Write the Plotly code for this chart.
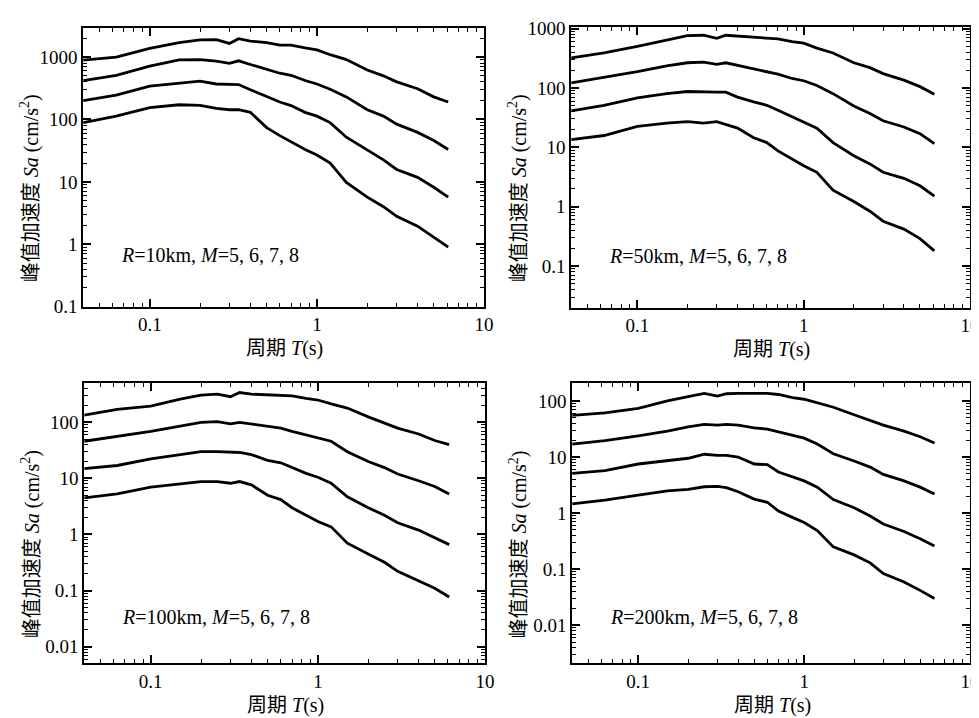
import math
import plotly.graph_objects as go

W, H = 979, 718

# Periods (s)
T = [0.04, 0.063, 0.1, 0.15, 0.2, 0.25, 0.3, 0.34, 0.4, 0.5, 0.6, 0.7, 0.85,
     1.0, 1.2, 1.5, 2.0, 2.5, 3.0, 4.0, 5.0, 6.1]

# R = 10 km
r10_m8 = [890, 1000, 1380, 1700, 1880, 1900, 1650, 1970, 1800, 1700, 1550, 1550, 1400,
          1300, 1090, 910, 620, 500, 400, 310, 230, 190]
r10_m7 = [420, 510, 716, 900, 910, 860, 790, 870, 760, 635, 550, 510, 420,
          370, 305, 230, 143, 113, 84, 62, 46, 33]
r10_m6 = [200, 245, 342, 385, 410, 370, 362, 362, 300, 230, 190, 167, 130,
          113, 89, 52, 32, 22.5, 15.8, 11.8, 8.2, 5.7]
r10_m5 = [89, 113, 155, 172, 168, 150, 143, 143, 130, 74, 55, 43.5, 33,
          27, 20, 9.8, 5.7, 4.0, 2.8, 1.95, 1.29, 0.9]

# R = 50 km
r50_m8 = [320, 387, 500, 643, 757, 770, 684, 770, 748, 702, 684, 667, 602,
          566, 468, 387, 265, 219, 174, 135, 105, 78]
r50_m7 = [122, 150, 188, 234, 265, 272, 249, 265, 240, 206, 188, 170, 144,
          132, 110, 80, 49.5, 37, 28, 22, 17, 11.5]
r50_m6 = [41, 51, 68, 80, 87, 85, 85, 85, 70, 58, 51, 42, 33,
          27, 21, 12, 7.2, 5.25, 3.8, 3.0, 2.25, 1.5]
r50_m5 = [13.5, 15.8, 22.5, 25.5, 27, 25.5, 27, 24.5, 21, 14.5, 12, 8.7, 6.3,
          4.9, 3.8, 1.9, 1.22, 0.84, 0.57, 0.42, 0.29, 0.18]

# R = 100 km
r100_m8 = [135, 170, 194, 260, 305, 318, 286, 340, 318, 310, 305, 297, 267,
           250, 213, 180, 125, 96, 79, 62, 47.5, 40]
r100_m7 = [46, 56, 69, 86, 100, 103, 94, 100, 94, 84, 79, 69, 60,
           54, 46, 30, 20, 15.6, 12, 9.1, 7.2, 5.3]
r100_m6 = [15, 17, 22.3, 26.5, 30, 30, 29, 29, 26.5, 21, 19, 15.6, 12.3,
           10.5, 8.2, 4.7, 3.0, 2.2, 1.62, 1.2, 0.89, 0.66]
r100_m5 = [4.5, 5.3, 7.0, 8.0, 8.8, 8.8, 8.2, 8.8, 7.7, 5.0, 4.2, 3.0, 2.2,
           1.7, 1.37, 0.7, 0.45, 0.32, 0.22, 0.15, 0.11, 0.077]

# R = 200 km
r200_m8 = [55, 61, 73.6, 100, 119, 136, 122, 134, 136, 134, 136, 130, 114,
           107, 91, 77, 56.5, 45, 37, 29, 23, 17.8]
r200_m7 = [17, 19.5, 23.8, 29, 34.5, 38, 37, 38, 37, 33, 31.5, 28, 24.8,
           21.7, 17, 11.4, 8.5, 6.6, 4.9, 3.75, 2.9, 2.2]
r200_m6 = [5.1, 5.7, 7.5, 8.6, 9.5, 11.2, 10.7, 10.7, 10, 7.5, 7.3, 5.4, 4.4,
           3.75, 2.9, 1.74, 1.25, 0.89, 0.64, 0.47, 0.35, 0.26]
r200_m5 = [1.46, 1.7, 2.1, 2.5, 2.65, 2.95, 3.0, 2.85, 2.4, 1.78, 1.56, 1.09, 0.84,
           0.68, 0.49, 0.25, 0.18, 0.13, 0.084, 0.059, 0.042, 0.030]

panels = [
    ("10", [r10_m5, r10_m6, r10_m7, r10_m8], [-1.0, 3.47], [0.1, 1, 10, 100, 1000]),
    ("50", [r50_m5, r50_m6, r50_m7, r50_m8], [-1.7, 3.03], [0.1, 1, 10, 100, 1000]),
    ("100", [r100_m5, r100_m6, r100_m7, r100_m8], [-2.3, 2.71], [0.01, 0.1, 1, 10, 100]),
    ("200", [r200_m5, r200_m6, r200_m7, r200_m8], [-2.68, 2.31], [0.01, 0.1, 1, 10, 100]),
]
x_range = [-1.398, 1.0]
x_major = [0.1, 1, 10]

# pixel boxes of each plot area: (left, right, top, bottom)
boxes = [(76, 481, 11, 298), (569, 972, 10, 299), (77, 482, 376, 665), (570, 972, 377, 665)]

FONT = "Liberation Serif, Times New Roman, Noto Sans CJK SC, serif"


def px(x):
    return x / W


def py(y):
    return 1 - y / H


def minor_vals(rng):
    lo, hi = rng
    out = []
    for d in range(math.floor(lo) - 1, math.ceil(hi) + 1):
        for k in range(2, 10):
            v = k * 10.0 ** d
            if lo <= math.log10(v) <= hi:
                out.append(v)
    return out


fig = go.Figure()
layout = dict(
    width=W, height=H,
    margin=dict(l=0, r=0, t=0, b=0),
    paper_bgcolor="white", plot_bgcolor="white",
    showlegend=False,
    font=dict(family=FONT, size=19, color="black"),
)
annotations = []

for i, (rlabel, series, yr, yt) in enumerate(panels):
    n = i + 1
    m = n + 4
    xa = "xaxis" if n == 1 else "xaxis%d" % n
    ya = "yaxis" if n == 1 else "yaxis%d" % n
    xref = "x" if n == 1 else "x%d" % n
    yref = "y" if n == 1 else "y%d" % n
    l, r, t, b = boxes[i]
    for s in series:
        fig.add_trace(go.Scatter(x=T, y=s, mode="lines", xaxis=xref, yaxis=yref,
                                 line=dict(color="black", width=2.8), hoverinfo="skip"))
    # empty trace to host the minor-tick axes
    fig.add_trace(go.Scatter(x=[], y=[], xaxis="x%d" % m, yaxis="y%d" % m,
                             mode="lines", hoverinfo="skip"))
    common = dict(showgrid=False, zeroline=False, showline=True, linecolor="black",
                  linewidth=2, mirror="allticks", ticks="inside", ticklen=8,
                  tickwidth=1.6, tickcolor="black",
                  tickfont=dict(family=FONT, size=19, color="black"))
    layout[xa] = dict(type="log", range=x_range, domain=[px(l), px(r)],
                      anchor=yref, tickvals=x_major, ticktext=["%g" % v for v in x_major],
                      **common)
    layout[ya] = dict(type="log", range=yr, domain=[py(b), py(t)],
                      anchor=xref, tickvals=yt, ticktext=["%g" % v for v in yt],
                      **common)
    minor_common = dict(showgrid=False, zeroline=False, showline=False,
                        mirror="allticks", ticks="inside", ticklen=4, tickwidth=1.4,
                        tickcolor="black", showticklabels=False)
    layout["xaxis%d" % m] = dict(type="log", range=x_range, overlaying=xref,
                                 anchor="y%d" % m, tickvals=minor_vals(x_range), **minor_common)
    layout["yaxis%d" % m] = dict(type="log", range=yr, overlaying=yref,
                                 anchor="x%d" % m, tickvals=minor_vals(yr), **minor_common)

    cx = (l + r) / 2
    annotations.append(dict(xref="paper", yref="paper", x=px(cx + 1), y=py(b + 43),
                            text="周期 <i>T</i>(s)", showarrow=False,
                            xanchor="center", yanchor="middle",
                            font=dict(family=FONT, size=20, color="black")))
    annotations.append(dict(xref="paper", yref="paper", x=px(l - 54), y=py((t + b) / 2 + 22),
                            text="峰值加速度 <i>Sa</i> (cm/s<sup>2</sup>)", showarrow=False,
                            textangle=-90, xanchor="center", yanchor="middle",
                            font=dict(family=FONT, size=20, color="black")))
    annotations.append(dict(xref="paper", yref="paper", x=px(l + 36),
                            y=py(b - 53 if n <= 2 else b - 48),
                            text="<i>R</i>=%skm, <i>M</i>=5, 6, 7, 8" % rlabel, showarrow=False,
                            xanchor="left", yanchor="middle",
                            font=dict(family=FONT, size=20, color="black")))

layout["annotations"] = annotations
fig.update_layout(**layout)
fig.write_html("out.html")
